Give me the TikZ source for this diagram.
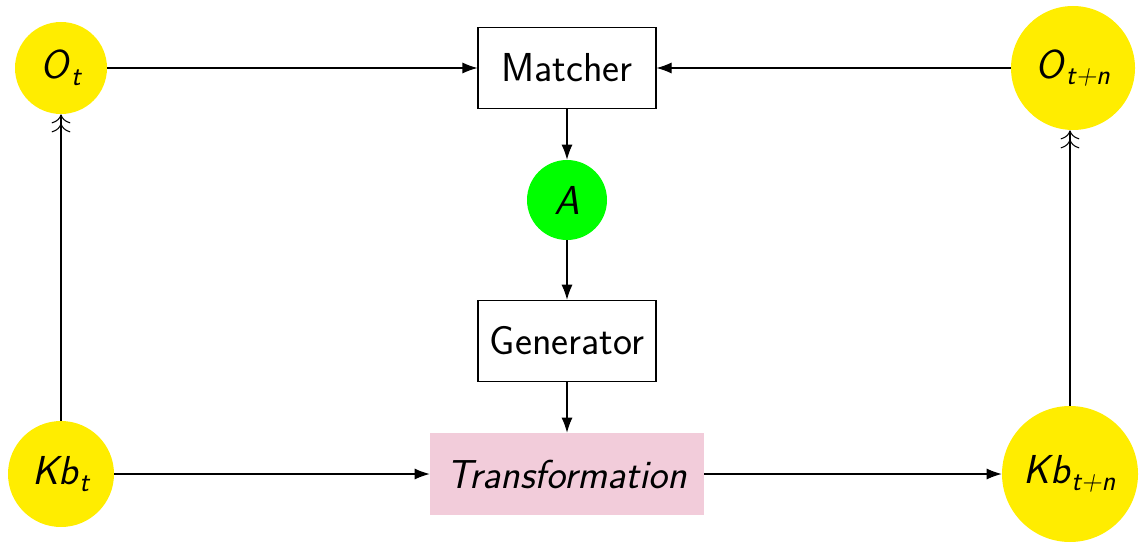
\documentclass[tikz,border=0pt]{standalone}
\usepackage{amsmath}
\usetikzlibrary{shapes.geometric, arrows.meta}

\definecolor{circyellow}{RGB}{255,237,0}
\definecolor{circgreen}{RGB}{0,255,0}
\definecolor{transpink}{RGB}{242,204,218}

\newcommand{\sv}[1]{\textit{#1}}

\begin{document}
\begin{tikzpicture}[font=\fontsize{23}{27}\selectfont\sffamily]

            \tikzstyle{statenode} = [circle, fill=circyellow, text centered, inner sep=0];
            \tikzstyle{actnode} = [circle, fill=circgreen, text centered, inner sep=0, minimum size=1.6cm];
            \tikzstyle{procbox} = [draw, line width=0.6pt, rectangle, text centered, minimum width=3.56cm, minimum height=1.63cm];
            \tikzstyle{transbox} = [rectangle, fill=transpink, text centered, minimum width=5.48cm, minimum height=1.64cm];
            \tikzstyle{arrow} = [line width=0.6pt, -{Latex[length=3mm, width=2.2mm]}];
            \tikzstyle{arrow2} = [line width=0.6pt, -{To[length=1.8mm]To[length=1.8mm]}];

            \useasboundingbox (0,0) rectangle (22.84,-10.86);

            \node[statenode, minimum size=1.84cm] (ot) at (1.22,-1.36) {\sv{O}$_{\sv{t}}$};
            \node[procbox] (matcher) at (11.34,-1.36) {Matcher};
            \node[statenode, minimum size=2.48cm] (otn) at (21.46,-1.36) {\sv{O}$_{\sv{t+n}}$};
            \node[actnode] (a) at (11.34,-4.0) {\sv{A}};
            \node[procbox] (gen) at (11.34,-6.82) {Generator};
            \node[transbox] (trans) at (11.34,-9.48) {\itshape Transformation};
            \node[statenode, minimum size=2.12cm] (kbt) at (1.22,-9.48) {\sv{Kb}$_{\sv{t}}$};
            \node[statenode, minimum size=2.72cm] (kbtn) at (21.4,-9.48) {\sv{Kb}$_{\sv{t+n}}$};

            \draw [arrow] (ot) -- (matcher);
            \draw [arrow] (otn) -- (matcher);
            \draw [arrow] (matcher) -- (a);
            \draw [arrow] (a) -- (gen);
            \draw [arrow] (gen) -- (trans);
            \draw [arrow] (kbt) -- (trans);
            \draw [arrow] (trans) -- (kbtn);
            \draw [arrow2] (kbt) -- (ot);
            \draw [arrow2] (kbtn.north) -- (kbtn.north |- otn.south);

        \end{tikzpicture}
\end{document}
